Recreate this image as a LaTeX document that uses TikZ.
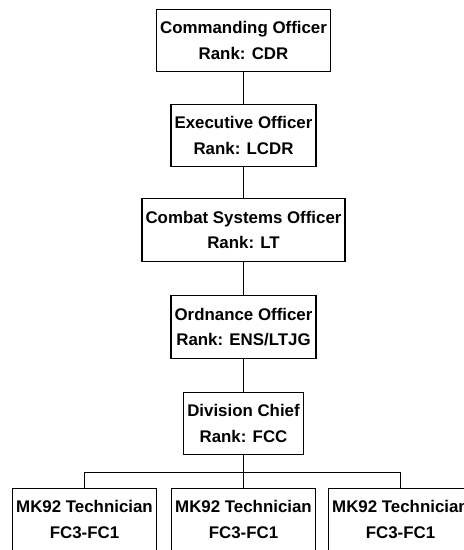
\documentclass[tikz,border=0pt]{standalone}
\usepackage{fontspec}
\setmainfont{Liberation Sans}
\usetikzlibrary{positioning}
\begin{document}
\begin{tikzpicture}
    % Styles
    \tikzset{
        post/.style={rectangle, draw, line width=0.8pt, fill=white,
                     minimum height=1.25cm, inner sep=2pt,
                     align=center, font=\fontsize{9.6}{14.4}\selectfont\bfseries},
        link/.style={line width=0.8pt}
    }
    \useasboundingbox (0,0) rectangle (9.28,11);

    % Chain of command
    \node[post, minimum width=3.42cm] (co) at (4.87,10.19) {Commanding Officer\\Rank: CDR};
    \node[post, minimum width=2.82cm] (xo) at (4.87,8.29) {Executive Officer\\Rank: LCDR};
    \node[post, minimum width=4.0cm] (cso) at (4.87,6.40) {Combat Systems Officer\\Rank: LT};
    \node[post, minimum width=2.88cm] (ord) at (4.87,4.46) {Ordnance Officer\\Rank: ENS/LTJG};
    \node[post, minimum width=2.32cm] (divchief) at (4.87,2.53) {Division Chief\\Rank: FCC};

    % Technicians
    \node[post, minimum width=2.86cm] (tech1) at (1.69,0.61) {MK92 Technician\\FC3-FC1};
    \node[post, minimum width=2.86cm] (tech2) at (4.87,0.61) {MK92 Technician\\FC3-FC1};
    \node[post, minimum width=2.86cm] (tech3) at (8.01,0.61) {MK92 Technician\\FC3-FC1};

    % Connections
    \draw[link] (co) -- (xo);
    \draw[link] (xo) -- (cso);
    \draw[link] (cso) -- (ord);
    \draw[link] (ord) -- (divchief);
    \draw[link] (divchief.south) -- ++(0,-0.34) coordinate (bus);
    \draw[link] (tech1.north) |- (bus) -| (tech3.north);
    \draw[link] (bus) -- (tech2.north);
\end{tikzpicture}
\end{document}
